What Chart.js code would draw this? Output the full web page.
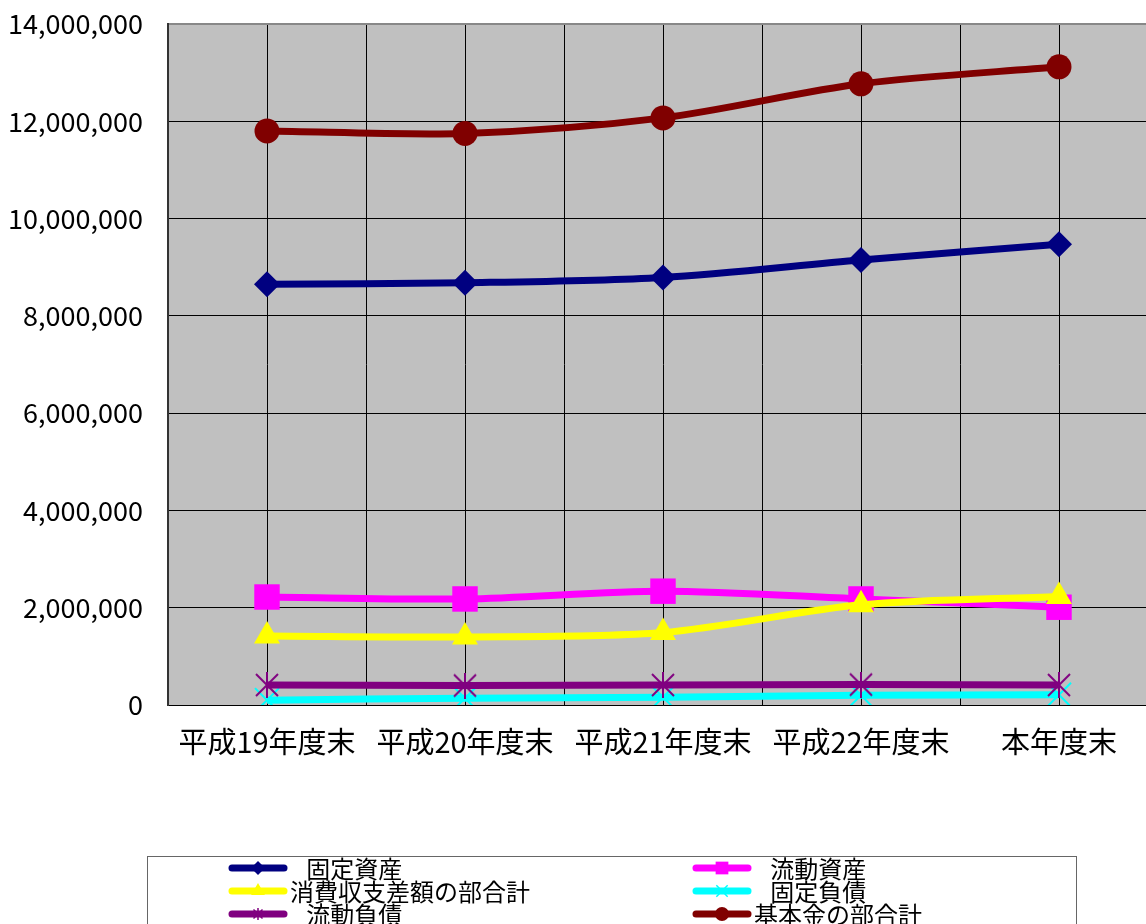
<!DOCTYPE html>
<html>
<head>
<meta charset="utf-8">
<script src="https://cdn.jsdelivr.net/npm/chart.js@4/dist/chart.umd.min.js"></script>
<style>
  html, body { margin: 0; padding: 0; background: #fff; overflow: hidden; }
  #wrap { width: 1177px; height: 960px; }
</style>
</head>
<body>
<div id="wrap"><canvas id="c" width="1177" height="960"></canvas></div>
<script>
const categories = ["平成19年度末", "平成20年度末", "平成21年度末", "平成22年度末", "本年度末"];
const seriesNames = ["   固定資産", "   流動資産", "消費収支差額の部合計", "   固定負債", "   流動負債", "基本金の部合計"];
const koteiShisan = [8650000, 8680000, 8790000, 9150000, 9470000];
const ryudoShisan = [2220000, 2180000, 2340000, 2180000, 2010000];
const shohiShushi = [1420000, 1400000, 1490000, 2060000, 2230000];
const koteiFusai = [100000, 140000, 160000, 200000, 210000];
const ryudoFusai = [410000, 400000, 410000, 420000, 410000];
const kihonkin = [11800000, 11750000, 12070000, 12770000, 13120000];
const yTicks = [0, 2000000, 4000000, 6000000, 8000000, 10000000, 12000000, 14000000];

// excel style asterisk marker (X plus vertical bar)
function makeStar(size, color, lw) {
  const cv = document.createElement("canvas");
  cv.width = size; cv.height = size;
  const g = cv.getContext("2d");
  g.strokeStyle = color; g.lineWidth = lw;
  const m = lw;
  g.beginPath();
  g.moveTo(m, m); g.lineTo(size - m, size - m);
  g.moveTo(size - m, m); g.lineTo(m, size - m);
  g.moveTo(size / 2, 0); g.lineTo(size / 2, size);
  g.stroke();
  return cv;
}
const starBig = makeStar(26, "#800080", 2);
const starSmall = makeStar(12, "#800080", 1.5);

const styles = [
  { color: "#000080", point: "rectRot", r: 13, lr: 7 },
  { color: "#ff00ff", point: "rect", r: 18, lr: 9 },
  { color: "#ffff00", point: "triangle", r: 15, lr: 8 },
  { color: "#00ffff", point: "crossRot", r: 17, lr: 8, bw: 2 },
  { color: "#800080", point: starBig, small: starSmall, r: 13, lr: 6 },
  { color: "#800000", point: "circle", r: 12.5, lr: 7 }
];
const values = [koteiShisan, ryudoShisan, shohiShushi, koteiFusai, ryudoFusai, kihonkin];

const datasets = values.map((vals, i) => ({
  label: seriesNames[i],
  data: vals.map((v, j) => ({ x: j, y: v })),
  borderColor: styles[i].color,
  backgroundColor: styles[i].color,
  borderWidth: 7,
  tension: 0.3,
  pointStyle: styles[i].point,
  pointRadius: styles[i].r,
  pointBorderWidth: styles[i].bw || 0,
  pointBorderColor: styles[i].color,
  pointBackgroundColor: styles[i].color,
  order: 10 - i
}));

const plotBg = {
  id: "plotBg",
  beforeDraw(chart) {
    const { ctx, chartArea: a } = chart;
    ctx.save();
    ctx.fillStyle = "#c0c0c0";
    ctx.fillRect(a.left, a.top, a.right - a.left, a.bottom - a.top);
    ctx.restore();
  }
};

// two-column legend in a box under the plot
const boxLegend = {
  id: "boxLegend",
  afterDraw(chart) {
    const ctx = chart.ctx;
    ctx.save();
    ctx.strokeStyle = "#666";
    ctx.lineWidth = 1;
    ctx.strokeRect(147.5, 856.5, 929, 100);
    const cols = [229, 693];
    const rows = [868, 891, 914];
    ctx.font = "24px 'Noto Sans CJK JP'";
    ctx.textBaseline = "middle";
    ctx.textAlign = "left";
    chart.data.datasets.forEach((ds, i) => {
      const x0 = cols[i % 2], y = rows[Math.floor(i / 2)];
      const st = styles[i];
      ctx.strokeStyle = st.color;
      ctx.lineWidth = 7;
      ctx.lineCap = "round";
      ctx.beginPath();
      ctx.moveTo(x0 + 3, y); ctx.lineTo(x0 + 55, y);
      ctx.stroke();
      ctx.fillStyle = st.color;
      ctx.lineWidth = 1.5;
      ctx.lineCap = "butt";
      Chart.helpers.drawPoint(ctx, {
        pointStyle: st.small || st.point,
        radius: st.lr,
        borderWidth: st.bw ? 1.5 : 0,
        rotation: 0
      }, x0 + 29, y);
      ctx.fillStyle = "#000";
      ctx.fillText(ds.label, x0 + 61, y + 1);
    });
    ctx.restore();
  }
};

new Chart(document.getElementById("c"), {
  type: "line",
  data: { datasets },
  plugins: [plotBg, boxLegend],
  options: {
    responsive: false,
    animation: false,
    devicePixelRatio: 1,
    layout: { padding: { left: 0, top: 24, right: 1, bottom: 195 } },
    plugins: { legend: { display: false }, tooltip: { enabled: false } },
    scales: {
      x: {
        type: "linear",
        min: -0.5,
        max: 4.5,
        afterBuildTicks(scale) {
          const t = [];
          for (let k = -1; k <= 9; k++) t.push({ value: k / 2 });
          scale.ticks = t;
        },
        afterFit(scale) { scale.height = 60; },
        ticks: {
          autoSkip: false,
          maxRotation: 0,
          padding: 0,
          color: "#000",
          font: { family: "'Noto Sans CJK JP'", size: 29 },
          callback: (v) => Number.isInteger(v) && v >= 0 ? categories[v] : ""
        },
        grid: { color: "#000", lineWidth: 1, drawTicks: true, tickLength: 20, tickColor: "rgba(0,0,0,0)" },
        border: { color: "#000", width: 1 }
      },
      y: {
        min: 0,
        max: 14000000,
        afterBuildTicks(scale) { scale.ticks = yTicks.map(v => ({ value: v })); },
        afterFit(scale) { scale.width = 168; },
        ticks: {
          padding: 0,
          color: "#000",
          font: { family: "'Noto Sans CJK JP'", size: 27 },
          callback: (v) => v.toLocaleString("en-US")
        },
        grid: {
          color: (c) => c.tick && c.tick.value === 14000000 ? "#888" : "#000",
          lineWidth: (c) => c.tick && c.tick.value === 14000000 ? 2 : 1,
          drawTicks: true,
          tickLength: 25,
          tickColor: "rgba(0,0,0,0)"
        },
        border: { color: "#333", width: 2 }
      }
    }
  }
});
</script>
</body>
</html>
